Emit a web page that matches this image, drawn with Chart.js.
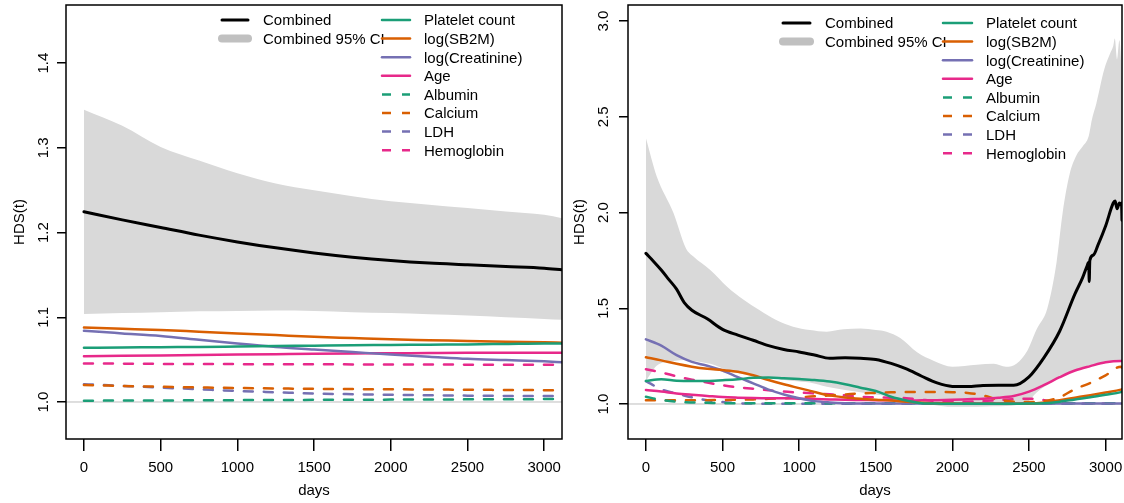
<!DOCTYPE html>
<html>
<head>
<meta charset="utf-8">
<script src="https://cdn.jsdelivr.net/npm/chart.js@4.4.1/dist/chart.umd.min.js"></script>
<style>
  html, body { margin: 0; padding: 0; background: #fff; }
  #wrap { position: relative; width: 1124px; height: 503px; }
  canvas { position: absolute; top: 0; }
  #hdsA { left: 0; }
  #hdsB { left: 563px; }
</style>
</head>
<body>
<div id="wrap">
  <canvas id="hdsA" width="563" height="503"></canvas>
  <canvas id="hdsB" width="561" height="503"></canvas>
</div>
<script>
// ---------- shared ----------
const xTicks = [0, 500, 1000, 1500, 2000, 2500, 3000];
const leftYTicks = [1.0, 1.1, 1.2, 1.3, 1.4];
const rightYTicks = [1.0, 1.5, 2.0, 2.5, 3.0];
const covariateLabels = ['Platelet count', 'log(SB2M)', 'log(Creatinine)', 'Age',
                         'Albumin', 'Calcium', 'LDH', 'Hemoglobin'];

// ---------- left panel ----------
const leftDays = [0, 250, 500, 750, 1000, 1250, 1500, 1750, 2000, 2250, 2500, 2750, 3000, 3116];
const leftCombined = [1.2245, 1.215, 1.206, 1.197, 1.189, 1.182, 1.176, 1.171, 1.167, 1.164, 1.162, 1.160, 1.158, 1.156];
const leftUpper    = [1.345, 1.326, 1.301, 1.285, 1.270, 1.258, 1.250, 1.243, 1.237, 1.233, 1.229, 1.225, 1.221, 1.217];
const leftLower    = [1.104, 1.105, 1.106, 1.107, 1.1075, 1.108, 1.1075, 1.106, 1.105, 1.1035, 1.102, 1.100, 1.098, 1.097];
const leftPlatelet = [1.064, 1.0643, 1.0647, 1.065, 1.0655, 1.066, 1.0665, 1.067, 1.0673, 1.0677, 1.068, 1.0685, 1.069, 1.069];
const leftSB2M     = [1.088, 1.0865, 1.085, 1.083, 1.081, 1.079, 1.077, 1.0755, 1.074, 1.073, 1.072, 1.071, 1.0705, 1.070];
const leftCreat    = [1.084, 1.081, 1.078, 1.0735, 1.069, 1.065, 1.062, 1.059, 1.056, 1.0535, 1.051, 1.0495, 1.048, 1.047];
const leftAge      = [1.054, 1.0545, 1.055, 1.0555, 1.056, 1.0565, 1.057, 1.0573, 1.0575, 1.0578, 1.058, 1.058, 1.058, 1.058];
const leftAlbumin  = [1.0015, 1.0017, 1.0018, 1.002, 1.0022, 1.0023, 1.0025, 1.0027, 1.0028, 1.003, 1.0031, 1.0033, 1.0034, 1.0035];
const leftCalcium  = [1.020, 1.019, 1.018, 1.0172, 1.0165, 1.016, 1.0155, 1.0152, 1.015, 1.0147, 1.0145, 1.0142, 1.014, 1.014];
const leftLDH      = [1.021, 1.019, 1.017, 1.015, 1.013, 1.0115, 1.010, 1.0092, 1.0085, 1.008, 1.0075, 1.0072, 1.007, 1.007];
const leftHemo     = [1.0455, 1.0453, 1.045, 1.0448, 1.0447, 1.0446, 1.0445, 1.0444, 1.0443, 1.0442, 1.0441, 1.044, 1.044, 1.044];

// ---------- right panel ----------
const rightCombinedDays = [0, 50, 100, 150, 200, 250, 300, 400, 500, 600, 700, 800, 900, 1000, 1100, 1200,
  1300, 1400, 1500, 1600, 1700, 1800, 1900, 2000, 2100, 2200, 2300, 2400, 2500, 2600, 2700, 2800, 2850,
  2877, 2890, 2893, 2897, 2920, 2950, 3000, 3050, 3062, 3075, 3090, 3100, 3104, 3107];
const rightCombined = [1.787, 1.745, 1.700, 1.650, 1.600, 1.530, 1.490, 1.445, 1.390, 1.360, 1.333, 1.305,
  1.285, 1.272, 1.256, 1.239, 1.241, 1.239, 1.233, 1.212, 1.183, 1.145, 1.110, 1.092, 1.091, 1.097, 1.098,
  1.098, 1.142, 1.245, 1.380, 1.575, 1.660, 1.717, 1.740, 1.640, 1.750, 1.778, 1.830, 1.930, 2.050, 2.060,
  2.020, 2.050, 2.040, 2.050, 1.960];

const rightBandDays = [0, 70, 180, 260, 310, 420, 530, 640, 740, 850, 960, 1070, 1180, 1290, 1400, 1500,
  1570, 1660, 1770, 1880, 2000, 2160, 2270, 2350, 2420, 2490, 2550, 2620, 2680, 2720, 2765, 2810, 2850,
  2890, 2910, 2940, 2990, 3030, 3050, 3060, 3075, 3090, 3100, 3107];
const rightUpper = [2.388, 2.190, 1.998, 1.815, 1.770, 1.700, 1.613, 1.543, 1.491, 1.439, 1.404, 1.387,
  1.378, 1.390, 1.395, 1.387, 1.378, 1.345, 1.270, 1.225, 1.195, 1.205, 1.210, 1.195, 1.212, 1.280, 1.390,
  1.500, 1.740, 2.000, 2.200, 2.300, 2.345, 2.400, 2.484, 2.571, 2.745, 2.832, 2.870, 2.910, 2.800, 2.900,
  2.800, 2.660];
const rightLower = [1.120, 1.200, 1.225, 1.230, 1.225, 1.210, 1.178, 1.155, 1.145, 1.132, 1.120, 1.112,
  1.090, 1.075, 1.062, 1.050, 1.042, 1.030, 1.010, 0.995, 0.985, 0.985, 0.988, 0.990, 0.995, 1.010, 1.060,
  1.100, 1.130, 1.150, 1.165, 1.175, 1.185, 1.195, 1.200, 1.205, 1.215, 1.220, 1.222, 1.223, 1.224, 1.225,
  1.225, 1.225];

const rightDays = [0, 100, 200, 300, 400, 500, 600, 700, 800, 900, 1000, 1100, 1200, 1300, 1400, 1500,
  1600, 1700, 1800, 1900, 2000, 2100, 2200, 2300, 2400, 2500, 2600, 2700, 2800, 2900, 3000, 3100, 3107];
const rightPlatelet = [1.120, 1.129, 1.122, 1.120, 1.120, 1.124, 1.129, 1.137, 1.138, 1.134, 1.130, 1.125,
  1.117, 1.103, 1.085, 1.068, 1.038, 1.018, 1.004, 1.002, 1.001, 1.001, 1.001, 1.001, 1.001, 1.002, 1.004,
  1.012, 1.024, 1.035, 1.048, 1.062, 1.064];
const rightSB2M = [1.244, 1.228, 1.210, 1.195, 1.184, 1.177, 1.168, 1.150, 1.125, 1.103, 1.083, 1.063,
  1.045, 1.034, 1.027, 1.022, 1.018, 1.012, 1.007, 1.004, 1.002, 1.001, 1.001, 1.001, 1.001, 1.002, 1.008,
  1.020, 1.033, 1.046, 1.060, 1.075, 1.077];
const rightCreat = [1.338, 1.305, 1.255, 1.220, 1.200, 1.175, 1.140, 1.108, 1.075, 1.050, 1.030, 1.015,
  1.008, 1.004, 1.003, 1.003, 1.003, 1.003, 1.003, 1.003, 1.003, 1.003, 1.003, 1.003, 1.003, 1.003, 1.003,
  1.003, 1.003, 1.003, 1.003, 1.003, 1.003];
const rightAge = [1.073, 1.065, 1.055, 1.048, 1.042, 1.036, 1.033, 1.031, 1.030, 1.030, 1.028, 1.026,
  1.024, 1.022, 1.021, 1.020, 1.019, 1.018, 1.019, 1.020, 1.022, 1.025, 1.028, 1.033, 1.042, 1.065, 1.100,
  1.140, 1.175, 1.198, 1.218, 1.225, 1.225];
const rightAlbumin = [1.038, 1.021, 1.012, 1.008, 1.006, 1.004, 1.004, 1.004, 1.004, 1.004, 1.004, 1.004,
  1.004, 1.004, 1.004, 1.004, 1.004, 1.004, 1.004, 1.004, 1.004, 1.004, 1.004, 1.004, 1.004, 1.004, 1.004,
  1.004, 1.004, 1.004, 1.004, 1.004, 1.004];
const rightCalcium = [1.020, 1.020, 1.019, 1.019, 1.020, 1.021, 1.022, 1.024, 1.027, 1.030, 1.035, 1.040,
  1.045, 1.050, 1.055, 1.058, 1.061, 1.063, 1.063, 1.063, 1.062, 1.058, 1.045, 1.022, 1.012, 1.010, 1.015,
  1.035, 1.078, 1.110, 1.150, 1.195, 1.190];
const rightLDH = [1.120, 1.077, 1.055, 1.035, 1.020, 1.010, 1.004, 1.002, 1.001, 1.001, 1.001, 1.001,
  1.001, 1.001, 1.001, 1.001, 1.001, 1.001, 1.001, 1.001, 1.001, 1.001, 1.001, 1.001, 1.001, 1.001, 1.001,
  1.001, 1.001, 1.001, 1.001, 1.001, 1.001];
const rightHemo = [1.181, 1.165, 1.145, 1.127, 1.112, 1.098, 1.087, 1.080, 1.072, 1.065, 1.060, 1.055,
  1.051, 1.045, 1.038, 1.035, 1.032, 1.030, 1.022, 1.015, 1.012, 1.012, 1.015, 1.020, 1.025, 1.028, 1.020,
  1.008, 1.004, 1.003, 1.003, 1.003, 1.003];

// ---------- styling ----------
const FONT = '"Liberation Sans", Arial, Helvetica, sans-serif';
const DASH = [9, 11];
const covariateStyles = [
  { color: '#1B9E77', dash: [] },
  { color: '#D95F02', dash: [] },
  { color: '#7570B3', dash: [] },
  { color: '#E7298A', dash: [] },
  { color: '#1B9E77', dash: DASH },
  { color: '#D95F02', dash: DASH },
  { color: '#7570B3', dash: DASH },
  { color: '#E7298A', dash: DASH }
];
const bandFill = '#d9d9d9';
const bandKey = '#c0c0c0';

Chart.defaults.font.family = FONT;
Chart.defaults.font.size = 15;
Chart.defaults.color = '#000';

function pts(days, vals) {
  return days.map((d, i) => ({ x: d, y: vals[i] }));
}

// y tick labels, rotated like base R's default axis labels
const rotatedYTicks = {
  id: 'rotatedYTicks',
  afterDraw(chart, args, opts) {
    const ctx = chart.ctx;
    const y = chart.scales.y;
    const left = chart.chartArea.left;
    ctx.save();
    ctx.font = '15px ' + FONT;
    ctx.fillStyle = '#000';
    ctx.textAlign = 'center';
    ctx.textBaseline = 'middle';
    y.ticks.forEach(t => {
      ctx.save();
      ctx.translate(left - opts.gap, y.getPixelForValue(t.value));
      ctx.rotate(-Math.PI / 2);
      ctx.fillText(Number(t.value).toFixed(1), 0, 0);
      ctx.restore();
    });
    ctx.restore();
  }
};

// plot frame
const frame = {
  id: 'frame',
  afterDraw(chart) {
    const { ctx, chartArea: a } = chart;
    ctx.save();
    ctx.strokeStyle = '#000';
    ctx.lineWidth = 1.5;
    ctx.strokeRect(a.left, a.top, a.right - a.left, a.bottom - a.top);
    ctx.restore();
  }
};

// two-column legend in the top right of the plot
const hdsLegend = {
  id: 'hdsLegend',
  afterDraw(chart, args, opts) {
    const ctx = chart.ctx;
    ctx.save();
    ctx.font = '15px ' + FONT;
    ctx.fillStyle = '#000';
    ctx.textAlign = 'left';
    ctx.textBaseline = 'alphabetic';
    opts.columns.forEach(col => {
      col.items.forEach((it, i) => {
        const y = opts.top + i * opts.rowGap;
        ctx.beginPath();
        ctx.strokeStyle = it.color;
        ctx.lineWidth = it.width;
        ctx.lineCap = it.dash.length ? 'butt' : 'round';
        ctx.setLineDash(it.dash);
        ctx.moveTo(col.x0, y);
        ctx.lineTo(col.x1, y);
        ctx.stroke();
        ctx.setLineDash([]);
      });
      col.items.forEach((it, i) => {
        const y = opts.top + i * opts.rowGap;
        ctx.fillText(it.label, col.tx, y + 5.4);
      });
    });
    ctx.restore();
  }
};

function makePanel(id, p) {
  const datasets = [];
  datasets.push({
    label: 'Combined', data: pts(p.combinedDays, p.combined),
    borderColor: '#000', borderWidth: 3, order: 0
  });
  p.series.forEach((vals, i) => {
    datasets.push({
      label: covariateLabels[i], data: pts(p.days, vals),
      borderColor: covariateStyles[i].color, borderWidth: 2.5,
      borderDash: covariateStyles[i].dash, order: i + 1
    });
  });
  datasets.push({
    label: 'reference', data: [{ x: p.xMin, y: 1 }, { x: p.xMax, y: 1 }],
    borderColor: '#bebebe', borderWidth: 1, order: 20, cubicInterpolationMode: 'default'
  });
  datasets.push({
    label: 'Combined 95% CI', data: pts(p.bandDays, p.upper),
    borderColor: 'rgba(0,0,0,0)', borderWidth: 1, backgroundColor: bandFill, fill: '+1', order: 30
  });
  datasets.push({
    label: 'Combined 95% CI lower', data: pts(p.bandDays, p.lower),
    borderColor: 'rgba(0,0,0,0)', borderWidth: 1, fill: false, order: 31
  });

  const keyItems = covariateLabels.map((l, i) => ({
    label: l, color: covariateStyles[i].color, width: 2.5, dash: covariateStyles[i].dash
  }));

  return new Chart(document.getElementById(id), {
    type: 'line',
    data: { datasets },
    options: {
      responsive: false,
      animation: false,
      devicePixelRatio: 1,
      events: [],
      layout: { padding: { top: 5, right: p.padRight, left: 0, bottom: 0 } },
      elements: {
        point: { radius: 0 },
        line: { cubicInterpolationMode: 'monotone', borderJoinStyle: 'round', borderCapStyle: 'round' }
      },
      plugins: {
        legend: { display: false },
        tooltip: { enabled: false },
        filler: { propagate: false },
        rotatedYTicks: { gap: p.yLabelGap },
        hdsLegend: {
          top: p.legendTop, rowGap: 18.6,
          columns: [
            { x0: p.col1[0], x1: p.col1[1], tx: p.col1[2], items: [
              { label: 'Combined', color: '#000', width: 3, dash: [] },
              { label: 'Combined 95% CI', color: bandKey, width: 8, dash: [] }
            ] },
            { x0: p.col2[0], x1: p.col2[1], tx: p.col2[2], items: keyItems }
          ]
        }
      },
      scales: {
        x: {
          type: 'linear', min: p.xMin, max: p.xMax,
          border: { display: false },
          grid: { drawOnChartArea: false, drawTicks: true, tickLength: 12, color: '#000', lineWidth: 1.5 },
          ticks: { padding: 8, maxRotation: 0, autoSkip: false, callback: v => String(v) },
          afterBuildTicks: s => { s.ticks = xTicks.map(v => ({ value: v })); },
          afterFit: s => { s.height = 64; s.paddingLeft = 0; s.paddingRight = 0; },
          title: { display: true, text: 'days', padding: { top: 0, bottom: 3 } }
        },
        y: {
          type: 'linear', min: p.yMin, max: p.yMax,
          border: { display: false },
          grid: { drawOnChartArea: false, drawTicks: true, tickLength: 9, color: '#000', lineWidth: 1.5 },
          ticks: { display: false },
          afterBuildTicks: s => { s.ticks = p.yTicks.map(v => ({ value: v })); },
          afterFit: s => { s.width = p.yWidth; s.paddingTop = 0; s.paddingBottom = 0; },
          title: { display: true, text: 'HDS(t)', padding: { top: p.yTitlePad, bottom: 0 } }
        }
      }
    },
    plugins: [rotatedYTicks, frame, hdsLegend]
  });
}

makePanel('hdsA', {
  xMin: -117, xMax: 3116, yMin: 0.9563, yMax: 1.4687, yTicks: leftYTicks,
  yWidth: 66, padRight: 1, yTitlePad: 11, yLabelGap: 22,
  legendTop: 20, col1: [222, 248, 263], col2: [382, 410, 424],
  days: leftDays,
  series: [leftPlatelet, leftSB2M, leftCreat, leftAge, leftAlbumin, leftCalcium, leftLDH, leftHemo],
  combinedDays: leftDays, combined: leftCombined,
  bandDays: leftDays, upper: leftUpper, lower: leftLower
});

makePanel('hdsB', {
  xMin: -117, xMax: 3107, yMin: 0.8171, yMax: 3.0846, yTicks: rightYTicks,
  yWidth: 65, padRight: 2, yTitlePad: 8, yLabelGap: 24,
  legendTop: 23, col1: [220, 247, 262], col2: [380, 409, 423],
  days: rightDays,
  series: [rightPlatelet, rightSB2M, rightCreat, rightAge, rightAlbumin, rightCalcium, rightLDH, rightHemo],
  combinedDays: rightCombinedDays, combined: rightCombined,
  bandDays: rightBandDays, upper: rightUpper, lower: rightLower
});
</script>
</body>
</html>
